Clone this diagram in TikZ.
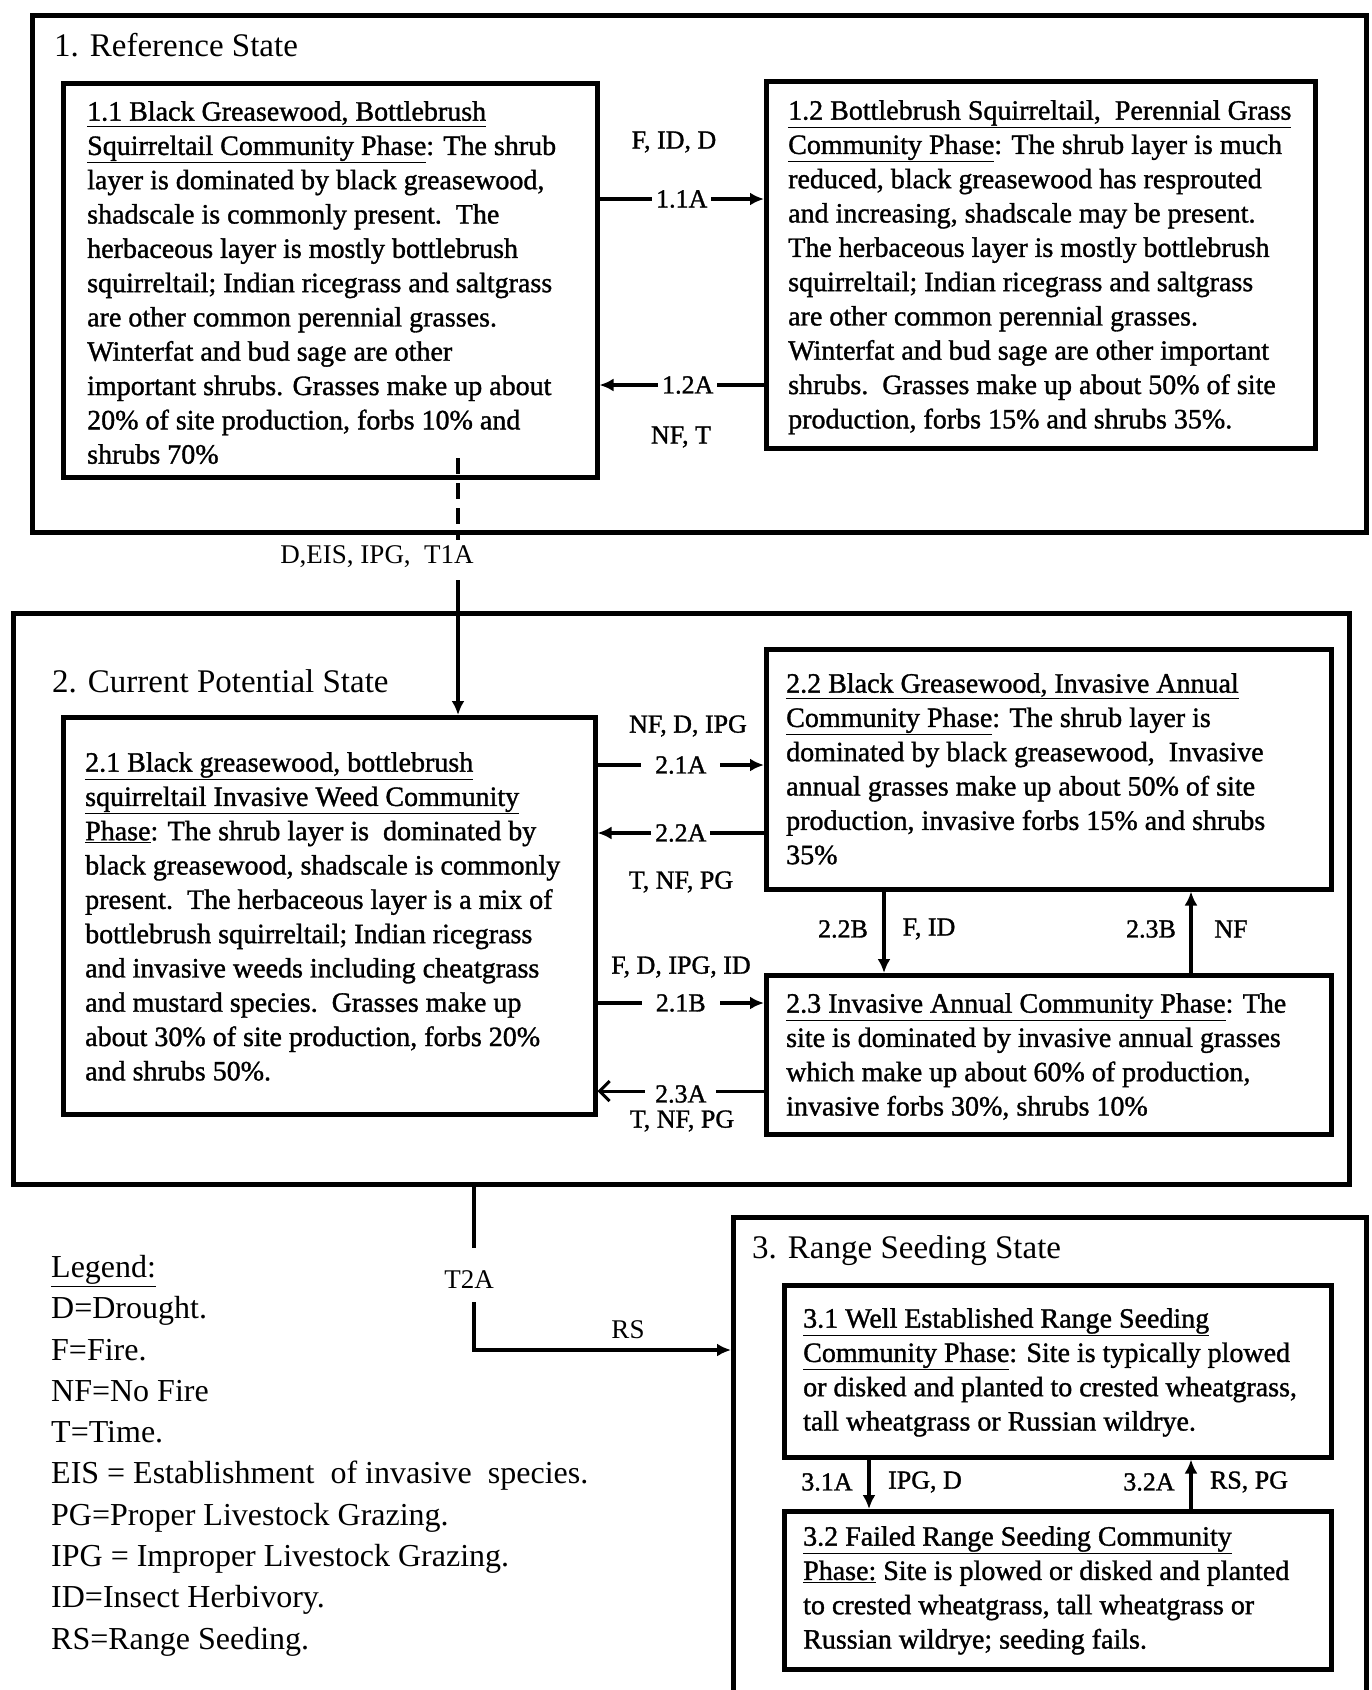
\documentclass[tikz,border=0pt]{standalone}
\usepackage{fontspec}
\setmainfont{Liberation Serif}
\newfontfamily\scanfont[FakeBold=1.2]{Liberation Serif}
\usetikzlibrary{arrows.meta,calc}
\begin{document}
\begin{tikzpicture}[x=1pt,y=-1pt,
  stbox/.style={draw, line width=5pt, inner sep=0pt, anchor=north west},
  pbox/.style={draw, line width=4.5pt, inner sep=0pt, anchor=north west},
  body/.style={anchor=north west, inner sep=0pt, align=left, font=\scanfont\fontsize{28}{34.3}\selectfont},
  ttl/.style={anchor=base west, inner sep=0pt, font=\fontsize{33}{40}\selectfont},
  lbl/.style={inner sep=0pt, font=\scanfont\fontsize{26}{30}\selectfont},
  biglbl/.style={inner sep=0pt, font=\fontsize{27}{32}\selectfont},
  gap/.style={fill=white, inner sep=4pt, font=\scanfont\fontsize{26}{30}\selectfont},
  arr/.style={line width=3.5pt, -{Latex[length=14pt,width=13pt]}},
  openarr/.style={line width=3pt, -{Straight Barb[length=10pt,width=20pt]}},
  con/.style={line width=3.5pt},
]
\useasboundingbox (0,0) rectangle (1372,1690);

% ---------- state boxes ----------
\node[stbox, minimum width=1334pt, minimum height=517pt] (s1) at (30,13) {};
\node[stbox, minimum width=1336pt, minimum height=571pt] (s2) at (11,611) {};
\node[stbox, minimum width=633pt, minimum height=480pt] (s3) at (731,1215) {};

\node[ttl] (h1) at (54,56) {1. Reference State};
\node[ttl] (h2) at (52,692) {2. Current Potential State};
\node[ttl] (h3) at (752,1258) {3. Range Seeding State};

% ---------- phase boxes ----------
\node[pbox, minimum width=534pt, minimum height=394pt] (b11) at (61,81) {};
\node[pbox, minimum width=549pt, minimum height=367pt] (b12) at (764,79) {};
\node[pbox, minimum width=532pt, minimum height=397pt] (b21) at (61,715) {};
\node[pbox, minimum width=565pt, minimum height=240pt] (b22) at (764,647) {};
\node[pbox, minimum width=565pt, minimum height=159pt] (b23) at (764,973) {};
\node[pbox, minimum width=547pt, minimum height=172pt] (b31) at (782,1283) {};
\node[pbox, minimum width=547pt, minimum height=158pt] (b32) at (782,1509) {};

% ---------- phase texts ----------
\node[body] (t11) at (87,101) {\underline{1.1 Black Greasewood, Bottlebrush}\\
\underline{Squirreltail Community Phase}: The shrub\\
layer is dominated by black greasewood,\\
shadscale is commonly present.\ \ The\\
herbaceous layer is mostly bottlebrush\\
squirreltail; Indian ricegrass and saltgrass\\
are other common perennial grasses.\\
Winterfat and bud sage are other\\
important shrubs. Grasses make up about\\
20\% of site production, forbs 10\% and\\
shrubs 70\%};

\node[body] (t12) at (788,100) {\underline{1.2 Bottlebrush Squirreltail,\ \ Perennial Grass}\\
\underline{Community Phase}: The shrub layer is much\\
reduced, black greasewood has resprouted\\
and increasing, shadscale may be present.\\
The herbaceous layer is mostly bottlebrush\\
squirreltail; Indian ricegrass and saltgrass\\
are other common perennial grasses.\\
Winterfat and bud sage are other important\\
shrubs.\ \ Grasses make up about 50\% of site\\
production, forbs 15\% and shrubs 35\%.};

\node[body] (t21) at (85,752) {\underline{2.1 Black greasewood, bottlebrush}\\
\underline{squirreltail Invasive Weed Community}\\
\underline{Phase}: The shrub layer is\ \ dominated by\\
black greasewood, shadscale is commonly\\
present.\ \ The herbaceous layer is a mix of\\
bottlebrush squirreltail; Indian ricegrass\\
and invasive weeds including cheatgrass\\
and mustard species.\ \ Grasses make up\\
about 30\% of site production, forbs 20\%\\
and shrubs 50\%.};

\node[body] (t22) at (786,673) {\underline{2.2 Black Greasewood, Invasive Annual}\\
\underline{Community Phase}: The shrub layer is\\
dominated by black greasewood,\ \ Invasive\\
annual grasses make up about 50\% of site\\
production, invasive forbs 15\% and shrubs\\
35\%};

\node[body] (t23) at (786,993) {\underline{2.3 Invasive Annual Community Phase}: The\\
site is dominated by invasive annual grasses\\
which make up about 60\% of production,\\
invasive forbs 30\%, shrubs 10\%};

\node[body] (t31) at (803,1308) {\underline{3.1 Well Established Range Seeding}\\
\underline{Community Phase}: Site is typically plowed\\
or disked and planted to crested wheatgrass,\\
tall wheatgrass or Russian wildrye.};

\node[body] (t32) at (803,1526) {\underline{3.2 Failed Range Seeding Community}\\
\underline{Phase:} Site is plowed or disked and planted\\
to crested wheatgrass, tall wheatgrass or\\
Russian wildrye; seeding fails.};

% ---------- horizontal transitions ----------
\coordinate (y11a) at (0,199);
\coordinate (y12a) at (0,385);
\draw[arr] (b11.east |- y11a) -- node[gap] (l11a) {1.1A} (b12.west |- y11a);
\draw[arr] (b12.west |- y12a) -- node[gap, xshift=6pt] (l12a) {1.2A} (b11.east |- y12a);
\node[lbl] (c11a) at (674,142) {F, ID, D};
\node[lbl] (c12a) at (681,437) {NF, T};

\coordinate (y21a) at (0,765);
\coordinate (y22a) at (0,833);
\coordinate (y21b) at (0,1003);
\coordinate (y23a) at (0,1091);
\draw[arr] (b21.east |- y21a) -- node[gap, inner xsep=14pt] (l21a) {2.1A} (b22.west |- y21a);
\draw[arr] (b22.west |- y22a) -- node[gap] (l22a) {2.2A} (b21.east |- y22a);
\draw[arr] (b21.east |- y21b) -- node[gap, inner xsep=14pt] (l21b) {2.1B} (b23.west |- y21b);
\draw[openarr] (b23.west |- y23a) -- node[gap, inner xsep=10pt, yshift=-3pt] (l23a) {2.3A} (b21.east |- y23a);
\node[lbl] (c21a) at (688,726) {NF, D, IPG};
\node[lbl] (c22a) at (681,882) {T, NF, PG};
\node[lbl] (c21b) at (681,967) {F, D, IPG, ID};
\node[lbl] (c23a) at (682,1121) {T, NF, PG};

% ---------- vertical transitions ----------
\coordinate (x22b) at (884,0);
\coordinate (x23b) at (1191,0);
\draw[arr] (b22.south -| x22b) -- (b23.north -| x22b);
\draw[arr] (b23.north -| x23b) -- (b22.south -| x23b);
\node[lbl] (l22b) at (843,929) {2.2B};
\node[lbl] (c22b) at (929,929) {F, ID};
\node[lbl] (l23b) at (1151,929) {2.3B};
\node[lbl] (c23b) at (1231,929) {NF};

\coordinate (x31a) at (869,0);
\coordinate (x32a) at (1191,0);
\draw[arr] (b31.south -| x31a) -- (b32.north -| x31a);
\draw[arr] (b32.north -| x32a) -- (b31.south -| x32a);
\node[lbl] (l31a) at (827,1482) {3.1A};
\node[lbl] (c31a) at (925,1482) {IPG, D};
\node[lbl] (l32a) at (1149,1482) {3.2A};
\node[lbl] (c32a) at (1249,1482) {RS, PG};

% ---------- state transitions ----------
\coordinate (d1) at (458,458);
\coordinate (d2) at (458,540);
\coordinate (d3) at (458,580);
\draw[con, dash pattern=on 16pt off 9pt] (d1) -- (d2);
\node[biglbl] (t1a) at (377,557) {D,EIS, IPG,\ \ T1A};
\draw[arr] (d3) -- (b21.north -| d3);

\coordinate (e1) at (474,1248);
\coordinate (e2) at (474,1302);
\coordinate (e3) at (0,1350);
\draw[con] (s2.south -| e1) -- (e1);
\node[biglbl] (t2a) at (469,1280) {T2A};
\draw[arr] (e2) |- (s3.west |- e3);
\node[biglbl] (rs) at (628,1330) {RS};

% ---------- legend ----------
\node[anchor=north west, inner sep=0pt, align=left, font=\fontsize{32}{41.3}\selectfont] (leg) at (51,1255) {\underline{Legend:}\\
D=Drought.\\
F=Fire.\\
NF=No Fire\\
T=Time.\\
EIS = Establishment\ \ of invasive\ \ species.\\
PG=Proper Livestock Grazing.\\
IPG = Improper Livestock Grazing.\\
ID=Insect Herbivory.\\
RS=Range Seeding.};
\end{tikzpicture}
\end{document}
